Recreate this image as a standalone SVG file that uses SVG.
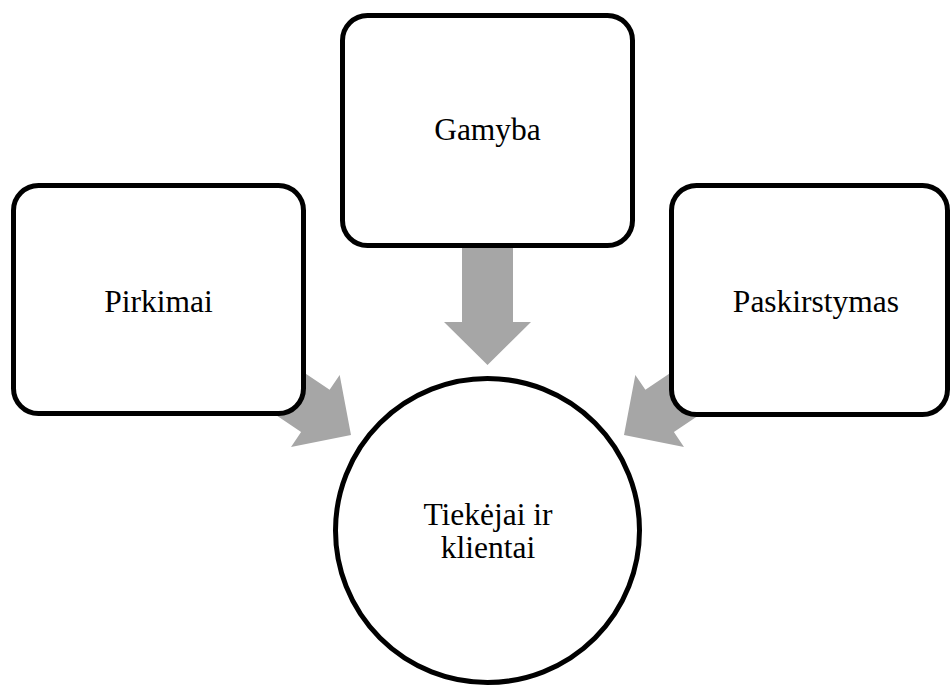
<svg xmlns="http://www.w3.org/2000/svg" width="951" height="686" viewBox="0 0 951 686">
<style>
.box{fill:#fff;stroke:#000;stroke-width:5}
.lbl{font-family:"Liberation Serif","Times New Roman",serif;font-size:31.5px;fill:#000;text-anchor:middle}
.arr{fill:#a6a6a6}
</style>
<defs>
<polygon id="arrow" points="-25.5,-130 25.5,-130 25.5,-43 43.5,-43 0,0 -43.5,-43 -25.5,-43"/>
</defs>
<rect width="951" height="686" fill="#fff"/>
<g id="connectors">
<use href="#arrow" class="arr" transform="translate(487.5,365)"/>
<use href="#arrow" class="arr" transform="translate(351,435) rotate(-56)"/>
<use href="#arrow" class="arr" transform="translate(624,435) rotate(56)"/>
</g>
<g id="gamyba">
<rect class="box" x="342.5" y="15.5" width="290" height="230" rx="25"/>
<text class="lbl" x="487.5" y="140">Gamyba</text>
</g>
<g id="pirkimai">
<rect class="box" x="13.5" y="185.5" width="290" height="228" rx="25"/>
<text class="lbl" x="158.5" y="312">Pirkimai</text>
</g>
<g id="paskirstymas">
<rect class="box" x="671.5" y="185.5" width="276" height="229" rx="25"/>
<text class="lbl" x="816" y="312">Paskirstymas</text>
</g>
<g id="tiekejai">
<circle class="box" cx="487.5" cy="530.5" r="152"/>
<text class="lbl" x="488" y="525">Tiekėjai ir</text>
<text class="lbl" x="488" y="558">klientai</text>
</g>
</svg>
